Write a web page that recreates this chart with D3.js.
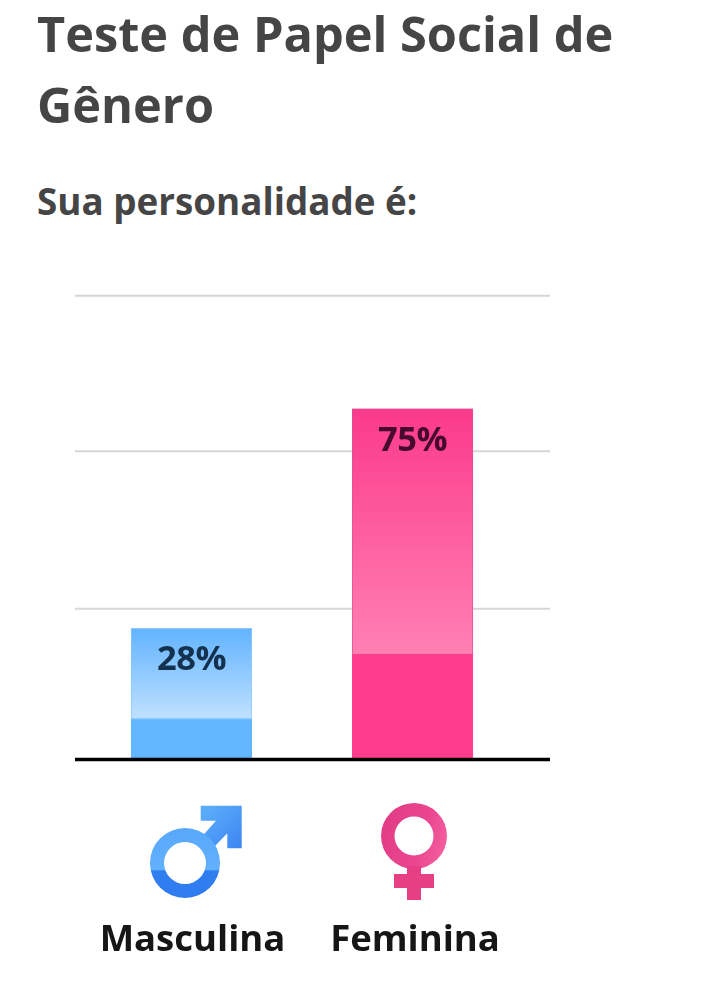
<!DOCTYPE html>
<html>
<head>
<meta charset="utf-8">
<script src="https://cdn.jsdelivr.net/npm/d3@7"></script>
<style>
  html, body { margin: 0; padding: 0; background: #fff; }
  svg { display: block; font-family: "Open Sans", sans-serif; }
</style>
</head>
<body>
<div id="chart"></div>
<script>
// valores
const categories = ["Masculina", "Feminina"];
const values = [28, 75];
const valueLabels = ["28%", "75%"];
const gridTicks = [32.3, 66, 99.3];
const titleLines = ["Teste de Papel Social de", "Gênero"];
const subtitle = "Sua personalidade é:";
// fração da barra ocupada pela faixa sólida inferior
const solidShare = [0.31, 0.30];

const W = 719, H = 981;
const baseY = 759, pxPerPct = 4.67;
const gridLeft = 75, gridRight = 550;

const svg = d3.select("#chart").append("svg").attr("width", W).attr("height", H);
const defs = svg.append("defs");

const x = d3.scaleBand().domain(categories).range([81, 523]).paddingInner(0.4525).paddingOuter(0.226);
const y = d3.scaleLinear().domain([0, 100]).range([baseY, baseY - 100 * pxPerPct]);

const palette = {
  Masculina: { top: "#62b3ff", bottom: "#bfe1ff", solid: "#62b5ff", text: "#14324f", edge: "#8ccaff" },
  Feminina: { top: "#fb3a8b", bottom: "#ff80b2", solid: "#ff3d8c", text: "#470a2c", edge: "#d9528f" }
};

categories.forEach((c, i) => {
  const g = defs.append("linearGradient").attr("id", "grad" + i)
    .attr("x1", 0).attr("y1", 0).attr("x2", 0).attr("y2", 1);
  g.append("stop").attr("offset", "0%").attr("stop-color", palette[c].top);
  g.append("stop").attr("offset", "100%").attr("stop-color", palette[c].bottom);
});

// título
svg.append("g").selectAll("text").data(titleLines).join("text")
  .attr("x", 37).attr("y", (d, i) => 52 + i * 71)
  .attr("font-size", 48.7).attr("font-weight", 700).attr("fill", "#454545")
  .text(d => d);
svg.append("text").attr("x", 37).attr("y", 215)
  .attr("font-size", 36.8).attr("font-weight", 700).attr("fill", "#454545")
  .text(subtitle);

// grade
const yAxis = d3.axisLeft(y).tickValues(gridTicks).tickSize(-(gridRight - gridLeft)).tickFormat("");
const gy = svg.append("g").attr("transform", `translate(${gridLeft},0)`).call(yAxis);
gy.select(".domain").remove();
gy.selectAll(".tick line").attr("stroke", "#d6d6d6").attr("stroke-width", 2);

// barras
const bars = svg.append("g").selectAll("g").data(categories).join("g");
bars.each(function(c, i) {
  const g = d3.select(this);
  const top = y(values[i]);
  const h = baseY - top;
  const solidH = h * solidShare[i];
  g.append("rect").attr("x", x(c)).attr("width", x.bandwidth())
    .attr("y", top).attr("height", h - solidH + 0.5).attr("fill", `url(#grad${i})`);
  g.append("rect").attr("x", x(c)).attr("width", x.bandwidth())
    .attr("y", baseY - solidH).attr("height", solidH).attr("fill", palette[c].solid);
  g.append("rect").attr("x", x(c) + 0.5).attr("width", x.bandwidth() - 1)
    .attr("y", top + 0.5).attr("height", h - solidH).attr("fill", "none")
    .attr("stroke", palette[c].edge).attr("stroke-width", 1).attr("opacity", 0.7);
  g.append("text").attr("x", x(c) + x.bandwidth() / 2).attr("y", top + 42)
    .attr("text-anchor", "middle").attr("font-size", 34.5).attr("font-weight", 700)
    .attr("letter-spacing", -0.5).attr("fill", palette[c].text)
    .style("filter", "blur(0.4px)")
    .text(valueLabels[i]);
});

// linha de base
svg.append("line").attr("x1", gridLeft).attr("x2", gridRight)
  .attr("y1", baseY + 0.5).attr("y2", baseY + 0.5).attr("stroke", "#000").attr("stroke-width", 3.5);

// símbolos
const blueGrad = defs.append("linearGradient").attr("id", "maleGrad")
  .attr("gradientUnits", "userSpaceOnUse").attr("x1", 0).attr("y1", 828).attr("x2", 0).attr("y2", 898);
[[0, "#58a8fb"], [0.6, "#62b0fd"], [0.61, "#2f7ff0"], [1, "#2f7bf0"]].forEach(s =>
  blueGrad.append("stop").attr("offset", s[0]).attr("stop-color", s[1]));

const arrowGrad = defs.append("linearGradient").attr("id", "arrowGrad")
  .attr("gradientUnits", "userSpaceOnUse").attr("x1", 205).attr("y1", 812).attr("x2", 240).attr("y2", 848);
[[0, "#5aabfb"], [1, "#3d86f2"]].forEach(s =>
  arrowGrad.append("stop").attr("offset", s[0]).attr("stop-color", s[1]));

const pinkGrad = defs.append("linearGradient").attr("id", "femaleGrad")
  .attr("gradientUnits", "userSpaceOnUse").attr("x1", 381).attr("y1", 830).attr("x2", 447).attr("y2", 850);
[[0, "#e23c86"], [0.6, "#ea4690"], [1, "#f4609f"]].forEach(s =>
  pinkGrad.append("stop").attr("offset", s[0]).attr("stop-color", s[1]));

const ring = (cx, cy, ro, ri) => {
  const p = d3.path();
  p.moveTo(cx + ro, cy); p.arc(cx, cy, ro, 0, 2 * Math.PI); p.closePath();
  p.moveTo(cx + ri, cy); p.arc(cx, cy, ri, 0, 2 * Math.PI, true); p.closePath();
  return p.toString();
};

const icons = svg.append("g").style("filter", "blur(0.5px)");
icons.append("path").attr("fill", "url(#arrowGrad)")
  .attr("d", "M200.7,805.7 H241.7 V848.3 H227.3 V833.3 L215,846 L203.3,835 L216,820.7 H200.7 Z");
icons.append("path").attr("fill", "url(#maleGrad)").attr("fill-rule", "evenodd")
  .attr("d", ring(185, 863, 35, 21));
icons.append("path").attr("fill", "url(#femaleGrad)").attr("fill-rule", "evenodd")
  .attr("d", ring(414, 836, 33, 19.5));
icons.append("path").attr("fill", "#e63f84")
  .attr("d", "M407,866 H421 V874 H434 V888 H421 V900 H407 V888 H394 V874 H407 Z");

// rótulos das categorias
svg.append("g").selectAll("text").data(categories).join("text")
  .attr("x", (d, i) => [192.5, 415][i]).attr("y", 951)
  .attr("text-anchor", "middle").attr("font-size", 36.5).attr("font-weight", 700)
  .attr("fill", "#161616").style("filter", "blur(0.4px)").text(d => d);
</script>
</body>
</html>
